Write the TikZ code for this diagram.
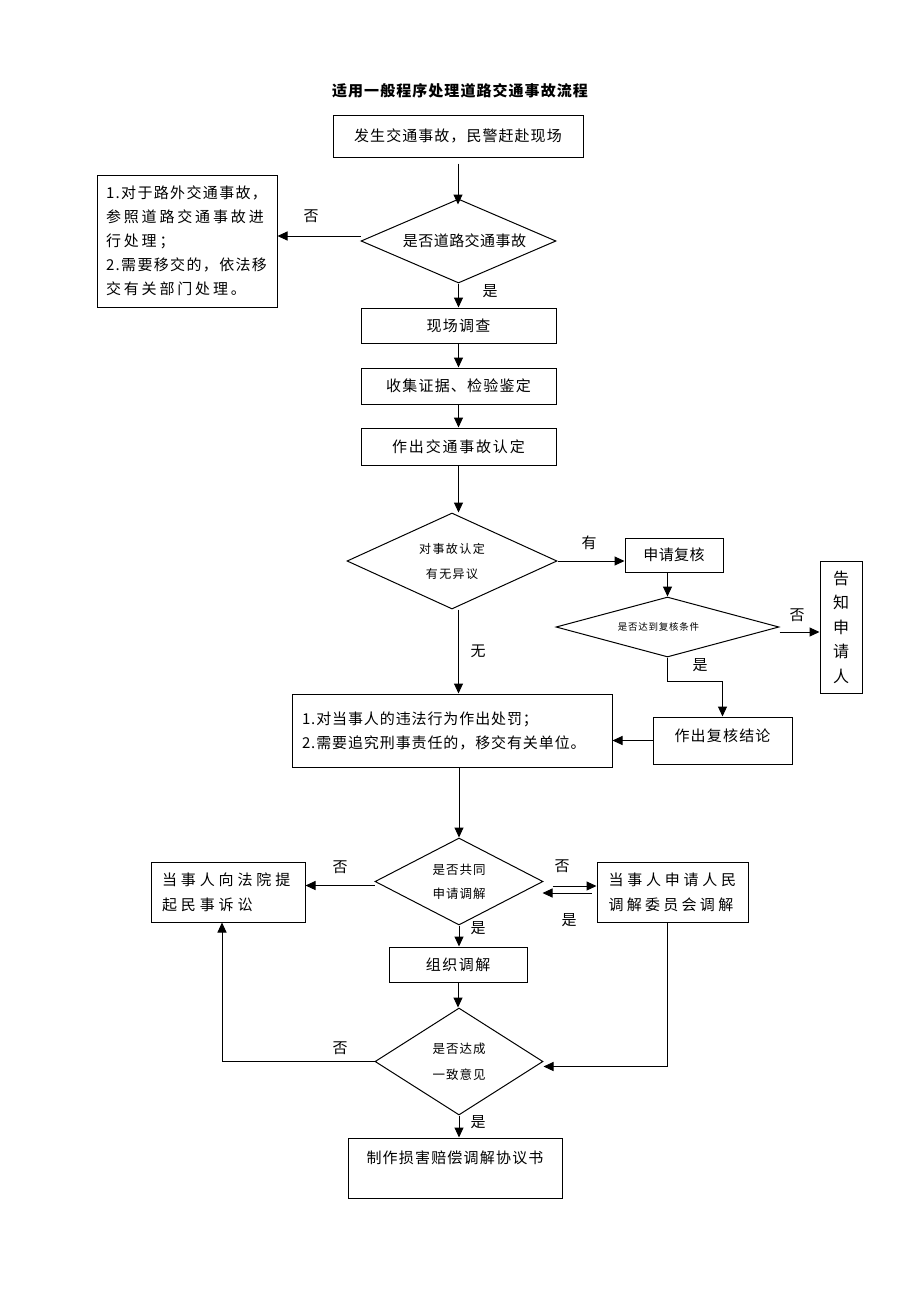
\documentclass[tikz,border=0pt]{standalone}
\usepackage{fontspec}
\setmainfont{Noto Sans CJK SC}
\usetikzlibrary{arrows.meta,shapes.geometric,calc}
\newcommand{\ls}[1]{\addfontfeature{LetterSpace=#1}}
\begin{document}
\begin{tikzpicture}[x=1pt,y=-1pt,
  line width=1pt,
  box/.style={draw, rectangle, inner sep=0pt, font=\fontsize{15}{24}\selectfont},
  dia/.style={draw, diamond, inner sep=0pt},
  arr/.style={-{Triangle[length=10pt,width=9pt]}},
  lab/.style={font=\fontsize{15}{15}\selectfont, inner sep=0pt}]
\fill[white] (0,0) rectangle (920,1302);

\node[font=\fontsize{15}{15}\selectfont\bfseries\ls{7}] (title) at (460,91) {适用一般程序处理道路交通事故流程};

\node[box, minimum width=250pt, minimum height=42pt, font=\fontsize{15}{15}\selectfont\ls{7}] (b1) at (458,136) {发生交通事故，民警赶赴现场};
\node[dia, minimum width=195pt, minimum height=84pt, shape aspect=2.3, font=\fontsize{15}{15}\selectfont\ls{3}] (d1) at (458.5,241) {\hspace*{12pt}是否道路交通事故};
\node[box, minimum width=180pt, minimum height=132pt, text width=162pt, align=left] (lbox) at (187,241)
  {{\ls{9}1.对于路外交通事故，}\\{\ls{19}参照道路交通事故进}\\{\ls{19}行处理；}\\{\ls{9}2.需要移交的，依法移}\\{\ls{19}交有关部门处理。}};
\node[box, minimum width=195pt, minimum height=35pt, font=\fontsize{15}{15}\selectfont\ls{8}] (b2) at (458.5,325.5) {现场调查};
\node[box, minimum width=195pt, minimum height=36pt, font=\fontsize{15}{15}\selectfont\ls{8}] (b3) at (458.5,386) {收集证据、检验鉴定};
\node[box, minimum width=195pt, minimum height=37pt, font=\fontsize{15}{15}\selectfont\ls{12}] (b4) at (458.5,446.5) {作出交通事故认定};
\node[dia, minimum width=210pt, minimum height=96pt, shape aspect=2.2, align=center, font=\fontsize{12}{25}\selectfont\ls{12}] (d2) at (452,561) {对事故认定\\有无异议};
\node[box, minimum width=98pt, minimum height=34pt, font=\fontsize{15}{15}\selectfont\ls{3}] (b5) at (674,555) {申请复核};
\node[dia, minimum width=223pt, minimum height=60pt, shape aspect=3.7, font=\fontsize{9.5}{9.5}\selectfont\ls{8}] (d3) at (667.5,627) {是否达到复核条件\hspace*{18pt}};
\node[box, minimum width=42pt, minimum height=132pt, align=center, font=\fontsize{16}{24.5}\selectfont] (b6) at (841,627) {告\\知\\申\\请\\人};
\node[box, minimum width=139pt, minimum height=47pt, font=\fontsize{15}{15}\selectfont\ls{8}, text height=24.6pt, text depth=22.4pt] (b7) at (722.5,740.5) {作出复核结论};
\node[box, minimum width=320pt, minimum height=73pt, text width=300pt, align=left, font=\fontsize{15}{24}\selectfont\ls{6}] (b8) at (452,730.5)
  {1.对当事人的违法行为作出处罚；\\2.需要追究刑事责任的，移交有关单位。};
\node[dia, minimum width=168pt, minimum height=87pt, shape aspect=1.9, align=center, font=\fontsize{12.5}{24}\selectfont\ls{8}] (d4) at (459,881.5) {是否共同\\申请调解};
\node[box, minimum width=154pt, minimum height=60pt, text width=132pt, align=left, font=\fontsize{15}{25}\selectfont] (b9) at (228,892)
  {{\ls{26}当事人向法院提}\\{\ls{26}起民事诉讼}};
\node[box, minimum width=151pt, minimum height=60pt, text width=128pt, align=left, font=\fontsize{15}{25}\selectfont] (b10) at (672.5,892)
  {{\ls{25}当事人申请人民}\\{\ls{22}调解委员会调解}};
\node[box, minimum width=138pt, minimum height=35pt, font=\fontsize{15}{15}\selectfont\ls{10}] (b11) at (458,964.5) {组织调解};
\node[dia, minimum width=168pt, minimum height=107pt, shape aspect=1.6, align=center, font=\fontsize{12.5}{26}\selectfont\ls{8}] (d5) at (459,1061.5) {是否达成\\一致意见};
\node[box, minimum width=214pt, minimum height=60pt, font=\fontsize{15}{15}\selectfont\ls{8}, text height=25.6pt, text depth=34.4pt] (b12) at (455,1168) {制作损害赔偿调解协议书};

% connectors
\draw[arr] ([yshift=-6pt]b1.south) -- ([yshift=-6pt]b1.south |- d1.north);
\draw[arr] ([yshift=5pt]d1.west) -- ([yshift=5pt]d1.west -| lbox.east);
\draw[arr] (d1.south) -- (b2.north);
\draw[arr] (b2.south) -- (b3.north);
\draw[arr] (b3.south) -- (b4.north);
\draw[arr] (b4.south) -- (b4.south |- d2.north);
\draw[arr] (d2.east) -- (d2.east -| b5.west);
\draw[arr] (d3.north |- b5.south) -- (d3.north);
\draw[arr] ([yshift=-5pt]d3.east) -- ([yshift=-5pt]d3.east -| b6.west);
\draw[arr] (d3.south) -- ++(0,24) -| (b7.north);
\draw[arr] (b7.west) -- (b7.west -| b8.east);
\draw[arr] (b4.south |- d2.south) -- (b4.south |- b8.north);
\draw[arr] (d4.north |- b8.south) -- (d4.north);
\draw[arr] ([yshift=-4pt]d4.west) -- ([yshift=-4pt]d4.west -| b9.east);
\draw[arr] ([xshift=-44pt,yshift=6pt]b10.west) -- ([yshift=6pt]b10.west);
\draw[arr] ([xshift=-5pt,yshift=-1pt]b10.west) -- ([xshift=-54pt,yshift=-1pt]b10.west);
\draw[arr] (d4.south) -- (d4.south |- b11.north);
\draw[arr] (b11.south) -- (b11.south |- d5.north);
\draw[arr] (d5.west) -| ([xshift=-6pt]b9.south);
\draw[arr] ([xshift=-5.5pt]b10.south) |- ([yshift=-5pt]d5.east);
\draw[arr] (d5.south) -- (d5.south |- b12.north);

% labels
\node[lab] (l1) at (311,216) {否};
\node[lab] (l2) at (490,291) {是};
\node[lab] (l3) at (589,543) {有};
\node[lab] (l4) at (797,615) {否};
\node[lab] (l5) at (700,665) {是};
\node[lab] (l6) at (478,651) {无};
\node[lab] (l7) at (340,867) {否};
\node[lab] (l8) at (562,866) {否};
\node[lab] (l9) at (569,920) {是};
\node[lab] (l10) at (478,928) {是};
\node[lab] (l11) at (340,1048) {否};
\node[lab] (l12) at (478,1122) {是};
\end{tikzpicture}
\end{document}
